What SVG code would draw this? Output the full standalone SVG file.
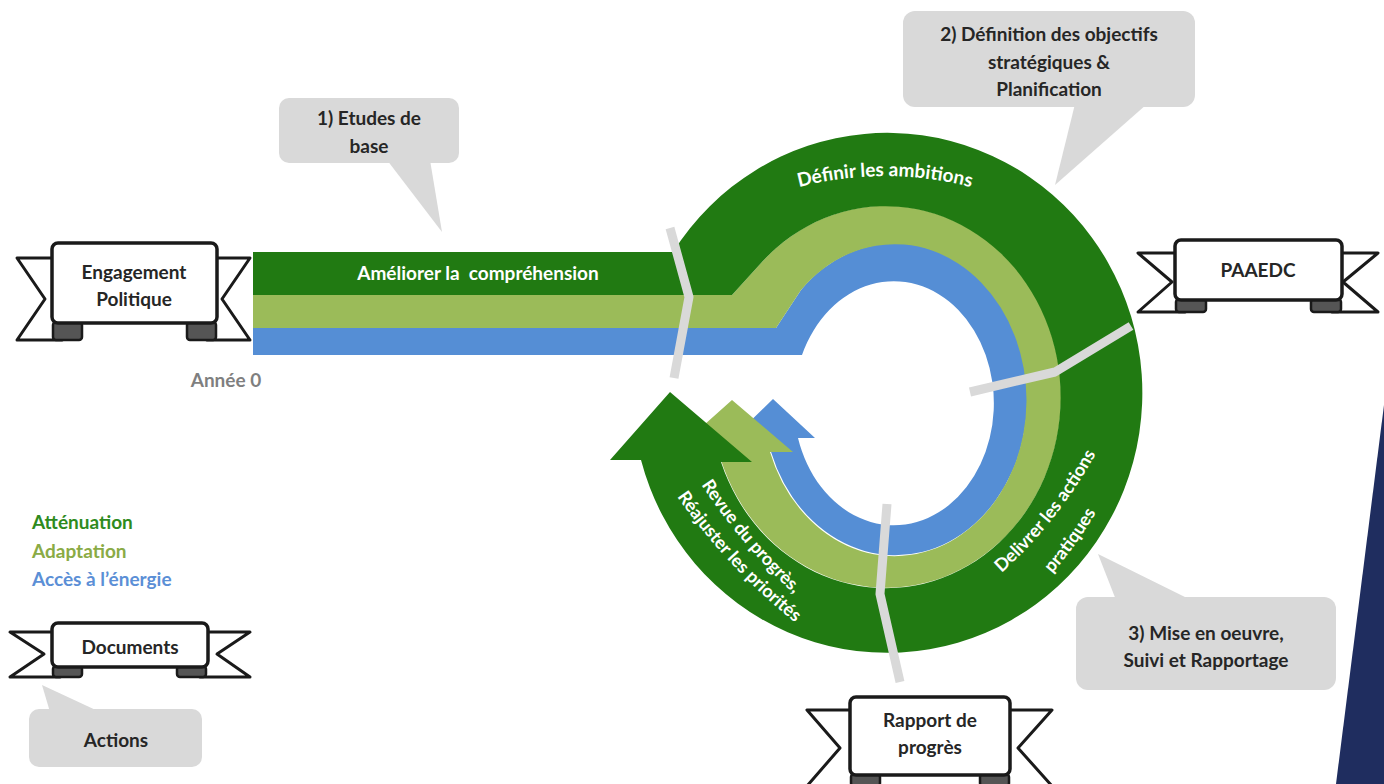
<svg xmlns="http://www.w3.org/2000/svg" width="1384" height="784" viewBox="0 0 1384 784">
<style>
.t{font-family:Lato,"Liberation Sans",sans-serif;font-weight:700;font-size:19px;fill:#262626;text-anchor:middle}
.w{fill:#ffffff}
.r{font-size:18px}
.lg{text-anchor:start}
.call{fill:#d9d9d9}
.wing{fill:#ffffff;stroke:#1a1a1a;stroke-width:3;stroke-linejoin:round}
.fold{fill:#555555;stroke:#1a1a1a;stroke-width:2.5;stroke-linejoin:round}
.box{fill:#ffffff;stroke:#1a1a1a;stroke-width:3.5}
.sep{fill:none;stroke:#d9d9d9;stroke-width:9;stroke-linejoin:round}
.g{fill:#217a12}
.lgn{fill:#9bbb59}
.b{fill:#558ed5}
</style>
<defs>
<path id="arcTop" d="M765,198 A340,340 0 0 1 1005,198"/>
<path id="arcRevue1" d="M681,452 A600,600 0 0 0 823,619"/>
<path id="arcRevue2" d="M653,459 A600,600 0 0 0 831,649"/>
<path id="arcDeliv1" d="M975,595 A450,450 0 0 0 1111,423"/>
<path id="arcDeliv2" d="M1030,597 A400,400 0 0 0 1111,484"/>
</defs>
<rect x="0" y="0" width="1384" height="784" fill="#ffffff"/>
<polygon points="1384,405 1384,784 1336,784" fill="#1f2d5f"/>

<g id="band-acces">
<path class="b" d="M253,328 L776,328 L801,290 A132,156 0 1 1 767,436 L735,436 L773,399 L815,438 L798,438 A100,122 0 1 0 802,355 L253,355 Z"/>
</g>
<g id="band-adaptation">
<path class="lgn" d="M253,295 L732,295 L762,262 A175,191 0 1 1 718,450 L676,450 L732,400 L793,452 L770,452 A132,156 0 1 0 801,290 L776,328 L253,328 Z"/>
</g>
<g id="band-attenuation">
<path class="g" d="M253,252 L673,252 A255,260 0 1 1 641,460 L610,460 L670,392 L752,462 L721,462 A175,191 0 1 0 762,262 L732,295 L253,295 Z"/>
</g>

<g id="dividers">
<polyline class="sep" points="670,228 689,297 674,378"/>
<polyline class="sep" points="970,392 1055,372 1131,326"/>
<polyline class="sep" points="887,504 880,594 900,682"/>
</g>

<g id="band-labels">
<text class="t w" x="478" y="280" font-size="20" style="white-space:pre">Améliorer la  compréhension</text>
<text class="t w"><textPath href="#arcTop" startOffset="50%">Définir les ambitions</textPath></text>
<text class="t w r"><textPath href="#arcDeliv1" startOffset="50%">Delivrer les actions</textPath></text>
<text class="t w r"><textPath href="#arcDeliv2" startOffset="50%">pratiques</textPath></text>
<text class="t w r"><textPath href="#arcRevue1" startOffset="50%">Revue du progrès,</textPath></text>
<text class="t w r"><textPath href="#arcRevue2" startOffset="50%">Réajuster les priorités</textPath></text>
</g>

<g id="callout-1">
<rect class="call" x="279" y="98" width="180" height="65" rx="10"/>
<polygon class="call" points="387,160 430,160 442,232"/>
<text class="t" x="369" y="125">1) Etudes de</text>
<text class="t" x="369" y="153">base</text>
</g>
<g id="callout-2">
<rect class="call" x="903" y="11" width="292" height="96" rx="12"/>
<polygon class="call" points="1075,104 1147,104 1055,185"/>
<text class="t" x="1049" y="41">2) Définition des objectifs</text>
<text class="t" x="1049" y="69">stratégiques &amp;</text>
<text class="t" x="1049" y="96">Planification</text>
</g>
<g id="callout-3">
<rect class="call" x="1076" y="597" width="260" height="93" rx="12"/>
<polygon class="call" points="1116,600 1191,600 1098,554"/>
<text class="t" x="1206" y="640">3) Mise en oeuvre,</text>
<text class="t" x="1206" y="667">Suivi et Rapportage</text>
</g>
<g id="callout-actions">
<rect class="call" x="29" y="709" width="173" height="58" rx="10"/>
<polygon class="call" points="50,712 100,712 42,685"/>
<text class="t" x="116" y="747">Actions</text>
</g>

<g id="n-engagement">
<polygon class="wing" points="17,258 62,258 62,340 17,340 45,299"/>
<polygon class="wing" points="250,258 207,258 207,340 250,340 222,299"/>
<rect class="fold" x="53" y="322" width="29" height="18" rx="3"/>
<rect class="fold" x="187" y="322" width="29" height="18" rx="3"/>
<rect class="box" x="52" y="243" width="165" height="80" rx="6"/>
<text class="t" x="134" y="279">Engagement</text>
<text class="t" x="134" y="306">Politique</text>
</g>
<text class="t" x="226" y="387" font-size="18" style="fill:#7f7f7f">Année 0</text>

<g id="n-paaedc">
<polygon class="wing" points="1138,253 1185,253 1185,312 1138,312 1172,282"/>
<polygon class="wing" points="1378,253 1332,253 1332,312 1378,312 1343,282"/>
<rect class="fold" x="1176" y="299" width="30" height="13" rx="3"/>
<rect class="fold" x="1311" y="299" width="30" height="13" rx="3"/>
<rect class="box" x="1175" y="240" width="167" height="60" rx="6"/>
<text class="t" x="1258" y="277">PAAEDC</text>
</g>

<g id="n-documents">
<polygon class="wing" points="10,632 60,632 60,677 10,677 44,654"/>
<polygon class="wing" points="250,632 200,632 200,677 250,677 217,654"/>
<rect class="fold" x="53" y="666" width="29" height="11" rx="3"/>
<rect class="fold" x="177" y="666" width="29" height="11" rx="3"/>
<rect class="box" x="52" y="623" width="156" height="44" rx="6"/>
<text class="t" x="130" y="654">Documents</text>
</g>

<g id="n-rapport">
<polygon class="wing" points="807,710 860,710 860,786 807,786 840,748"/>
<polygon class="wing" points="1052,710 1000,710 1000,786 1052,786 1018,748"/>
<rect class="fold" x="851" y="774" width="29" height="12" rx="3"/>
<rect class="fold" x="980" y="774" width="29" height="12" rx="3"/>
<rect class="box" x="850" y="697" width="160" height="78" rx="6"/>
<text class="t" x="930" y="727">Rapport de</text>
<text class="t" x="930" y="754">progrès</text>
</g>

<g id="legend">
<text class="t lg" x="32" y="529" style="fill:#2e8b1e">Atténuation</text>
<text class="t lg" x="32" y="558" style="fill:#8aab45">Adaptation</text>
<text class="t lg" x="32" y="586" style="fill:#5b8fd6">Accès à l’énergie</text>
</g>
</svg>
